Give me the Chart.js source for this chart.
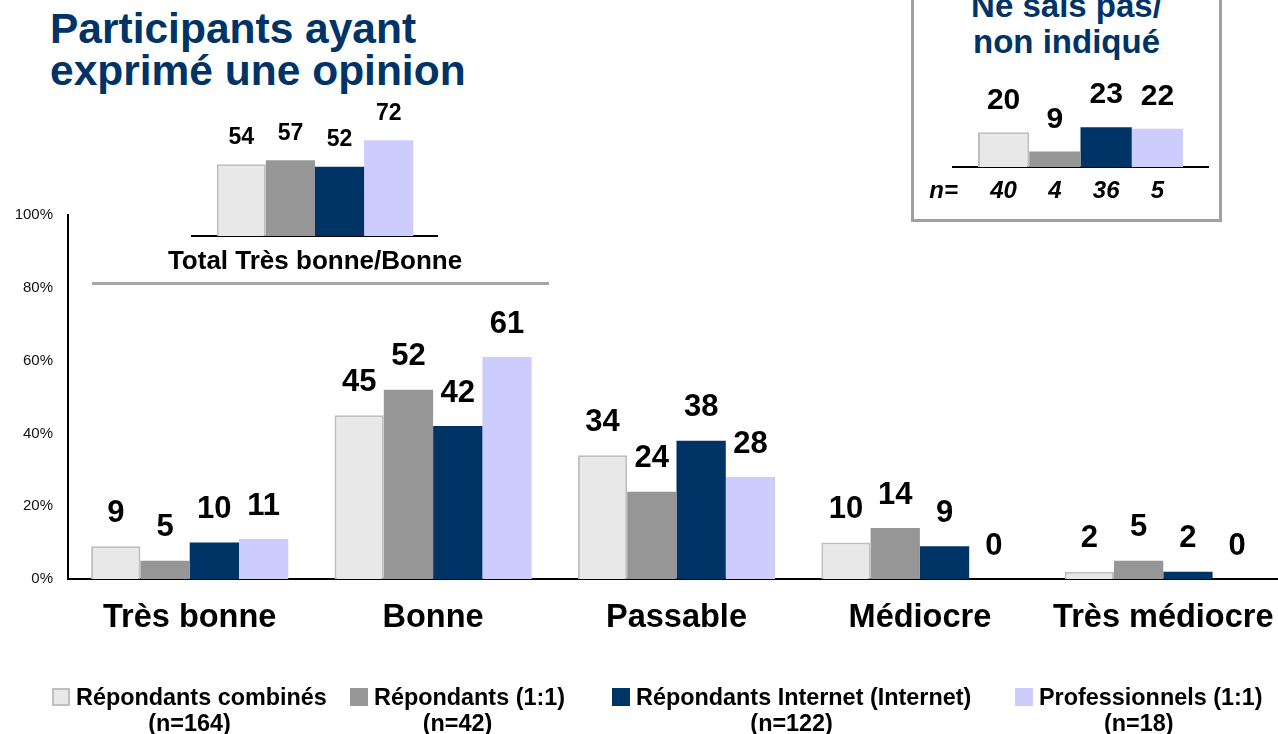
<!DOCTYPE html>
<html>
<head>
<meta charset="utf-8">
<script src="https://cdn.jsdelivr.net/npm/chart.js@4"></script>
<style>
  html, body { margin: 0; width: 1278px; height: 734px; overflow: hidden; background: #fff; }
  body { position: relative; font-family: 'Liberation Sans', Arial, sans-serif; }
  canvas { position: absolute; }
  #title { position: absolute; left: 50px; top: 8px; font-weight: bold; font-size: 42.5px; line-height: 42px; color: #003366; }
  #sep { position: absolute; left: 92px; top: 282px; width: 457px; height: 3px; background: #a6a6a6; }
  #nspBox { position: absolute; left: 911px; top: -25px; width: 311px; height: 247px; box-sizing: border-box; border: 3px solid #a0a0a0; }
  #nspTitle { position: absolute; left: 911px; width: 311px; top: -12px; text-align: center; font-weight: bold; font-size: 33px; line-height: 36px; color: #003366; }
  #legend { position: absolute; left: 0; top: 684px; font-weight: bold; font-size: 23.4px; line-height: 26px; color: #000; }
  .item { position: absolute; top: 0; white-space: nowrap; }
  .row { display: flex; align-items: flex-start; }
  .sw { width: 18px; height: 18px; margin-top: 4px; margin-right: 6px; box-sizing: border-box; }
  .n { text-align: center; }
</style>
</head>
<body>
<div id="title">Participants ayant<br>exprimé une opinion</div>
<div id="nspBox"></div>
<div id="nspTitle">Ne sais pas/<br>non indiqué</div>
<div id="sep"></div>
<canvas id="mainChart" width="1300" height="734" style="left:0;top:0"></canvas>
<canvas id="totalChart" width="350" height="230" style="left:140px;top:60px"></canvas>
<canvas id="nspChart" width="305" height="180" style="left:913px;top:40px"></canvas>
<div id="legend"></div>
<script>
const FONT = "'Liberation Sans', Arial, sans-serif";
Chart.defaults.font.family = FONT;

const categories = ['Très bonne', 'Bonne', 'Passable', 'Médiocre', 'Très médiocre'];
const seriesNames = ['Répondants combinés', 'Répondants (1:1)', 'Répondants Internet (Internet)', 'Professionnels (1:1)'];
const seriesN = ['(n=164)', '(n=42)', '(n=122)', '(n=18)'];
const combines = [9, 45, 34, 10, 2];
const repondants11 = [5, 52, 24, 14, 5];
const internet = [10, 42, 38, 9, 2];
const professionnels = [11, 61, 28, 0, 0];
const yTicks = [0, 20, 40, 60, 80, 100];

const totalLabel = 'Total Très bonne/Bonne';
const totalValues = [54, 57, 52, 72];

const nspValues = [20, 9, 23, 22];
const nspN = ['40', '4', '36', '5'];

const fills = ['#e8e8e8', '#969696', '#003366', '#ccccff'];
const borders = ['#bfbfbf', '#969696', '#003366', '#ccccff'];
const borderW = [2, 0, 0, 0];
const legendLeft = [52, 350, 612, 1015];

const valueLabels = {
  id: 'valueLabels',
  afterDatasetsDraw(chart, args, opts) {
    const ctx = chart.ctx;
    ctx.save();
    ctx.font = 'bold ' + opts.size + 'px ' + FONT;
    ctx.fillStyle = '#000';
    ctx.textAlign = 'center';
    ctx.textBaseline = 'middle';
    chart.data.datasets.forEach((ds, i) => {
      chart.getDatasetMeta(i).data.forEach((bar, j) => {
        ctx.fillText(String(ds.data[j]), bar.x, bar.y - opts.offset);
      });
    });
    ctx.restore();
  }
};

const nRow = {
  id: 'nRow',
  afterDatasetsDraw(chart) {
    const ctx = chart.ctx;
    const y = chart.chartArea.bottom + 24;
    ctx.save();
    ctx.font = 'italic bold 24px ' + FONT;
    ctx.fillStyle = '#000';
    ctx.textAlign = 'center';
    ctx.textBaseline = 'middle';
    nspN.forEach((n, i) => {
      const bar = chart.getDatasetMeta(i).data[0];
      ctx.fillText(n, bar.x, y);
    });
    ctx.fillText('n=', chart.getDatasetMeta(0).data[0].x - 60, y);
    ctx.restore();
  }
};

function ds(label, data, i) {
  return {
    label: label,
    data: data,
    backgroundColor: fills[i],
    borderColor: borders[i],
    borderWidth: borderW[i],
    barPercentage: 1,
    categoryPercentage: 0.81
  };
}

new Chart(document.getElementById('mainChart'), {
  type: 'bar',
  data: {
    labels: categories,
    datasets: [
      ds(seriesNames[0], combines, 0),
      ds(seriesNames[1], repondants11, 1),
      ds(seriesNames[2], internet, 2),
      ds(seriesNames[3], professionnels, 3)
    ]
  },
  options: {
    responsive: false,
    animation: false,
    layout: { padding: { top: 215, right: 15, bottom: 0, left: 0 } },
    plugins: {
      legend: { display: false },
      tooltip: { enabled: false },
      valueLabels: { size: 31, offset: 33 }
    },
    scales: {
      x: {
        grid: { display: false, drawTicks: false },
        border: { display: true, color: '#000', width: 2 },
        ticks: { color: '#000', padding: 20, maxRotation: 0, autoSkip: false, font: { size: 32.5, weight: 'bold' } },
        afterFit: s => { s.height = 155; }
      },
      y: {
        min: 0,
        max: 100,
        afterBuildTicks: s => { s.ticks = yTicks.map(v => ({ value: v })); },
        grid: { display: false, drawTicks: false },
        border: { display: true, color: '#000', width: 2 },
        ticks: { color: '#111', padding: 15, font: { size: 15 }, callback: v => v + '%' },
        afterFit: s => { s.width = 68; }
      }
    }
  },
  plugins: [valueLabels]
});

new Chart(document.getElementById('totalChart'), {
  type: 'bar',
  data: {
    labels: [totalLabel],
    datasets: totalValues.map((v, i) => ({
      label: seriesNames[i],
      data: [v],
      backgroundColor: fills[i],
      borderColor: borders[i],
      borderWidth: borderW[i],
      barPercentage: 1,
      categoryPercentage: 0.8
    }))
  },
  options: {
    responsive: false,
    animation: false,
    layout: { padding: { top: 43, right: 45, bottom: 0, left: 43 } },
    plugins: {
      legend: { display: false },
      tooltip: { enabled: false },
      valueLabels: { size: 23, offset: 27 }
    },
    scales: {
      x: {
        grid: { display: false, drawTicks: false },
        border: { display: true, color: '#000', width: 2 },
        ticks: { color: '#000', padding: 10, maxRotation: 0, font: { size: 26, weight: 'bold' } },
        afterFit: s => { s.height = 54; }
      },
      y: { display: false, min: 0, max: 100 }
    }
  },
  plugins: [valueLabels]
});

new Chart(document.getElementById('nspChart'), {
  type: 'bar',
  data: {
    labels: [''],
    datasets: nspValues.map((v, i) => ({
      label: seriesNames[i],
      data: [v],
      backgroundColor: fills[i],
      borderColor: borders[i],
      borderWidth: borderW[i],
      barPercentage: 1,
      categoryPercentage: 0.804
    }))
  },
  options: {
    responsive: false,
    animation: false,
    layout: { padding: { top: 23, right: 10, bottom: 0, left: 40 } },
    plugins: {
      legend: { display: false },
      tooltip: { enabled: false },
      valueLabels: { size: 30, offset: 32 }
    },
    scales: {
      x: {
        grid: { display: false, drawTicks: false },
        border: { display: true, color: '#000', width: 2 },
        ticks: { display: false },
        afterFit: s => { s.height = 53; }
      },
      y: { display: false, min: 0, max: 60 }
    }
  },
  plugins: [valueLabels, nRow]
});

// legend: swatch + name on the first line, sample size centred below the item
const legendEl = document.getElementById('legend');
seriesNames.forEach((name, i) => {
  const item = document.createElement('div');
  item.className = 'item';
  item.style.left = legendLeft[i] + 'px';
  const row = document.createElement('div');
  row.className = 'row';
  const sw = document.createElement('div');
  sw.className = 'sw';
  sw.style.background = fills[i];
  if (borderW[i]) sw.style.border = '2px solid ' + borders[i];
  const txt = document.createElement('div');
  txt.textContent = name;
  row.appendChild(sw);
  row.appendChild(txt);
  const n = document.createElement('div');
  n.className = 'n';
  n.textContent = seriesN[i];
  item.appendChild(row);
  item.appendChild(n);
  legendEl.appendChild(item);
});
</script>
</body>
</html>
